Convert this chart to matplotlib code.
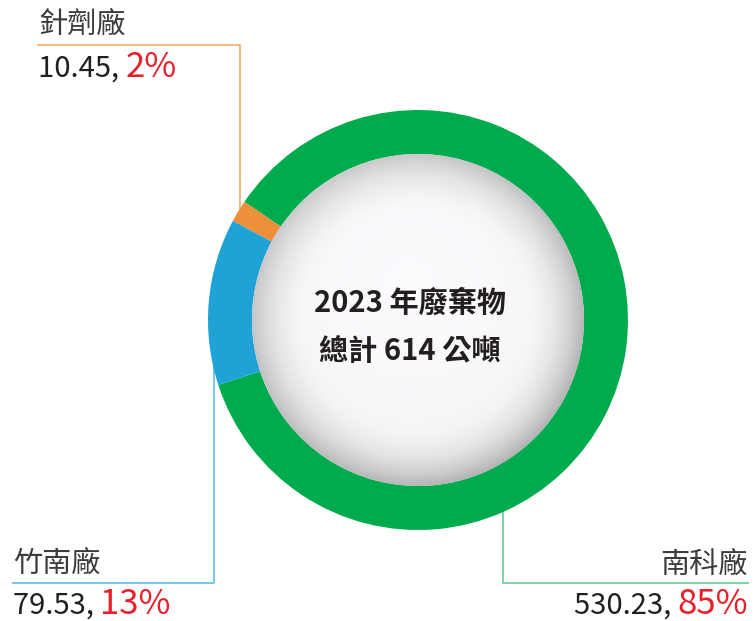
import matplotlib.pyplot as plt
import numpy as np
from matplotlib.patches import Circle

plt.rcParams["font.family"] = ["Noto Sans CJK TC", "DejaVu Sans"]

# data
plants = ["南科廠", "針劑廠", "竹南廠"]
tonnes = [530.23, 10.45, 79.53]
shares = ["85%", "2%", "13%"]
colors = ["#00AB4E", "#EE8F3A", "#1FA3D6"]
line_colors = ["#6CCB93", "#F2AC70", "#5DBDE2"]
title_lines = ["2023 年廢棄物", "總計 614 公噸"]

W, H = 754, 621
cx, cy_img = 418, 320
R_out, ring_w = 210, 44
R_in = R_out - ring_w


def fy(y_img):
    # image row -> data y
    return H - y_img


cy = fy(cy_img)

# label layout (image pixel coords): text x, name y, value baseline y, ha,
# leader: vertical x, horizontal y, horizontal far end x
layout = {
    "南科廠": dict(tx=748, ny=565, vy=614, ha="right", lx=503, hy=583, hx=749),
    "針劑廠": dict(tx=38, ny=25, vy=77, ha="left", lx=240, hy=45, hx=37),
    "竹南廠": dict(tx=13, ny=564, vy=614, ha="left", lx=214, hy=583, hx=12),
}

fig = plt.figure(figsize=(W / 100, H / 100), dpi=100)
ax = fig.add_axes([0, 0, 1, 1])

wedges, _ = ax.pie(
    tonnes,
    colors=colors,
    startangle=198,
    counterclock=True,
    radius=R_out,
    center=(cx, cy),
    wedgeprops=dict(width=ring_w, linewidth=0),
)
for w in wedges:
    w.set_zorder(3)

# leader lines, ending where the vertical meets the ring middle
r_mid = R_out - ring_w / 2
for name, lc in zip(plants, line_colors):
    L = layout[name]
    dx = L["lx"] - cx
    dy = np.sqrt(max(r_mid**2 - dx**2, 0))
    hy = fy(L["hy"])
    y_end = cy + dy if hy > cy else cy - dy
    ax.plot([L["hx"], L["lx"], L["lx"]], [hy, hy, y_end],
            color=lc, lw=1.2, zorder=2, solid_capstyle="butt")

# shaded centre sphere: white core, grey rim, darker toward lower right
n = 500
u, v = np.meshgrid(np.linspace(-1, 1, n), np.linspace(-1, 1, n))
d = np.hypot(u + 0.05, v - 0.2)
rr = np.hypot(u, v)
rim = np.clip((rr - 0.62) / 0.38, 0, 1) ** 2.2
tilt = 1 + 0.25 * (u - v) / 2
shade = 1.0 - 0.03 * d**2 - 0.21 * rim * tilt
img = np.dstack([shade * 0.985, shade * 0.985, shade * 0.997])
img = np.clip(img, 0, 1)
im = ax.imshow(img, origin="lower",
               extent=[cx - R_in, cx + R_in, cy - R_in, cy + R_in],
               zorder=4, interpolation="bilinear")
im.set_clip_path(Circle((cx, cy), R_in, transform=ax.transData))

ax.set_xlim(0, W)
ax.set_ylim(0, H)
ax.set_aspect("auto")
ax.set_axis_off()

# centre title
for i, line in enumerate(title_lines):
    ax.text(cx - 8, fy(303 + 48 * i), line, ha="center", va="center",
            fontsize=21, fontweight="bold", color="#231F20", zorder=5)

# labels
renderer = fig.canvas.get_renderer()
for name, t, s in zip(plants, tonnes, shares):
    L = layout[name]
    ax.text(L["tx"], fy(L["ny"]), name, ha=L["ha"], va="center",
            fontsize=21, color="#3C3C3C", zorder=5)
    num = f"{t:.2f}, "
    if L["ha"] == "left":
        t1 = ax.text(L["tx"], fy(L["vy"]), num, ha="left", va="baseline",
                     fontsize=21, color="#231F20", zorder=5)
        bb = t1.get_window_extent(renderer)
        ax.text(bb.x1, fy(L["vy"]), s, ha="left", va="baseline",
                fontsize=25, color="#E8202A", zorder=5)
    else:
        t2 = ax.text(L["tx"], fy(L["vy"]), s, ha="right", va="baseline",
                     fontsize=25, color="#E8202A", zorder=5)
        bb = t2.get_window_extent(renderer)
        ax.text(bb.x0, fy(L["vy"]), num, ha="right", va="baseline",
                fontsize=21, color="#231F20", zorder=5)

fig.savefig("out.png", dpi=100)
